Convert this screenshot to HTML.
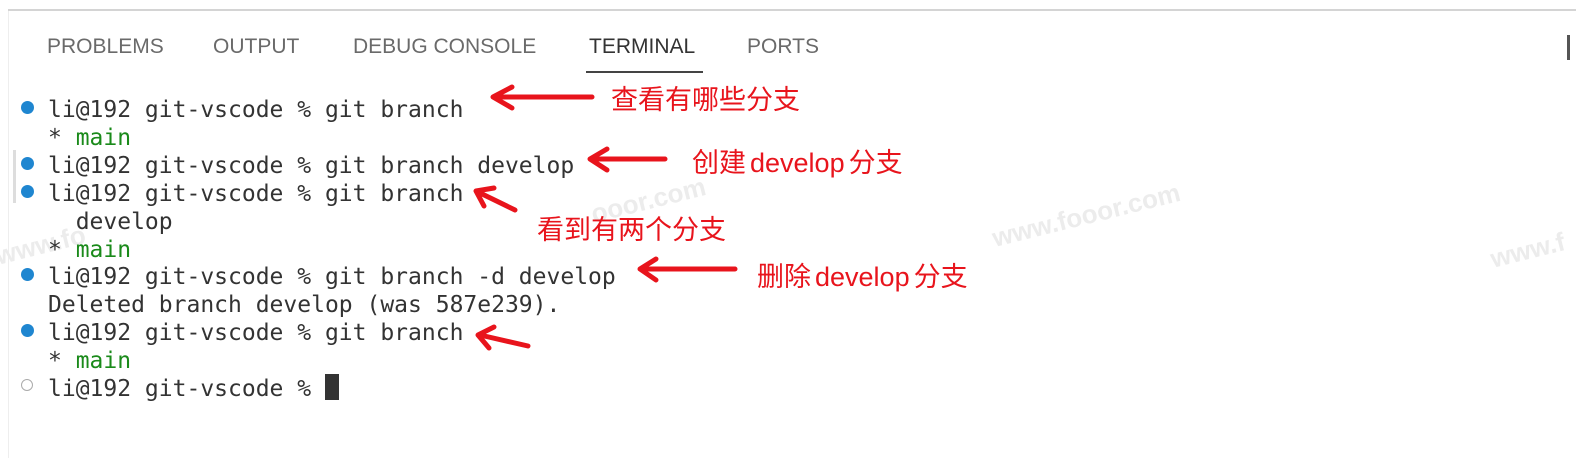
<!DOCTYPE html>
<html><head><meta charset="utf-8"><style>
body{margin:0;width:1576px;height:458px;background:#fff;position:relative;overflow:hidden;font-family:"DejaVu Sans Mono","Liberation Mono",monospace;}
.t{position:absolute;font-family:"Liberation Sans",sans-serif;font-size:21px;color:#6a6a6a;top:35px;}
.l{position:absolute;left:48px;font-size:23px;line-height:28px;color:#333;white-space:pre;}
.g{color:#1a8a1a}
.d{position:absolute;left:21px;width:13px;height:13px;border-radius:50%;background:#1f86d0}
.o{position:absolute;left:21px;width:10px;height:10px;border-radius:50%;border:1.5px solid #aaa}
.c{position:absolute;font-family:"Liberation Sans","Noto Sans CJK SC",sans-serif;font-size:27px;color:#e8141c;white-space:nowrap}
.w{position:absolute;font-family:"Liberation Sans",sans-serif;font-size:26px;font-weight:bold;color:#ececec;transform:rotate(-14deg);}
</style></head><body>
<div style="position:absolute;left:8px;right:0;top:9px;height:2px;background:#d4d4d4"></div>
<div style="position:absolute;left:8px;top:11px;width:1px;height:447px;background:#eee"></div>
<div class="w" style="left:-5px;top:230px">www.fo</div>
<div class="w" style="left:590px;top:185px">ooor.com</div>
<div class="w" style="left:990px;top:200px">www.fooor.com</div>
<div class="w" style="left:1490px;top:235px">www.f</div>
<div class="t" style="left:47px">PROBLEMS</div>
<div class="t" style="left:213px">OUTPUT</div>
<div class="t" style="left:353px">DEBUG CONSOLE</div>
<div class="t" style="left:589px;color:#333">TERMINAL</div>
<div class="t" style="left:747px">PORTS</div>
<div style="position:absolute;left:586px;top:71px;width:117px;height:2px;background:#444"></div>
<div style="position:absolute;left:1567px;top:35px;width:3px;height:25px;background:#555"></div>
<div style="position:absolute;left:13px;top:150px;width:3px;height:53px;background:#ddd"></div>
<div class="d" style="top:101px"></div><div class="l" style="top:96px">li@192 git-vscode % git branch</div>
<div class="l" style="top:124px">* <span class="g">main</span></div>
<div class="d" style="top:157px"></div><div class="l" style="top:152px">li@192 git-vscode % git branch develop</div>
<div class="d" style="top:185px"></div><div class="l" style="top:180px">li@192 git-vscode % git branch</div>
<div class="l" style="top:208px">  develop</div>
<div class="l" style="top:236px">* <span class="g">main</span></div>
<div class="d" style="top:268px"></div><div class="l" style="top:263px">li@192 git-vscode % git branch -d develop</div>
<div class="l" style="top:291px">Deleted branch develop (was 587e239).</div>
<div class="d" style="top:324px"></div><div class="l" style="top:319px">li@192 git-vscode % git branch</div>
<div class="l" style="top:347px">* <span class="g">main</span></div>
<div class="o" style="top:379px"></div><div class="l" style="top:375px">li@192 git-vscode % </div>
<div style="position:absolute;left:325px;top:374px;width:14px;height:26px;background:#333"></div>
<svg width="1576" height="458" style="position:absolute;left:0;top:0" fill="none" stroke="#e8141c" stroke-width="5" stroke-linecap="round" stroke-linejoin="round">
<path d="M592 97 H495 M512 87 L493 97 L512 108"/>
<path d="M665 159 H592 M607 149 L590 159 L607 170"/>
<path d="M515 210 L478 192 M484 206 L476 191 L494 188"/>
<path d="M735 269 H642 M656 259 L640 269 L656 280"/>
<path d="M528 346 L480 335 M489 348 L478 335 L494 327"/>
</svg>
<div class="c" style="left:611px;top:78px">查看有哪些分支</div>
<div class="c" style="left:692px;top:141px">创建<span style="margin:0 4px">develop</span>分支</div>
<div class="c" style="left:537px;top:208px">看到有两个分支</div>
<div class="c" style="left:757px;top:255px">删除<span style="margin:0 4px">develop</span>分支</div>
</body></html>
